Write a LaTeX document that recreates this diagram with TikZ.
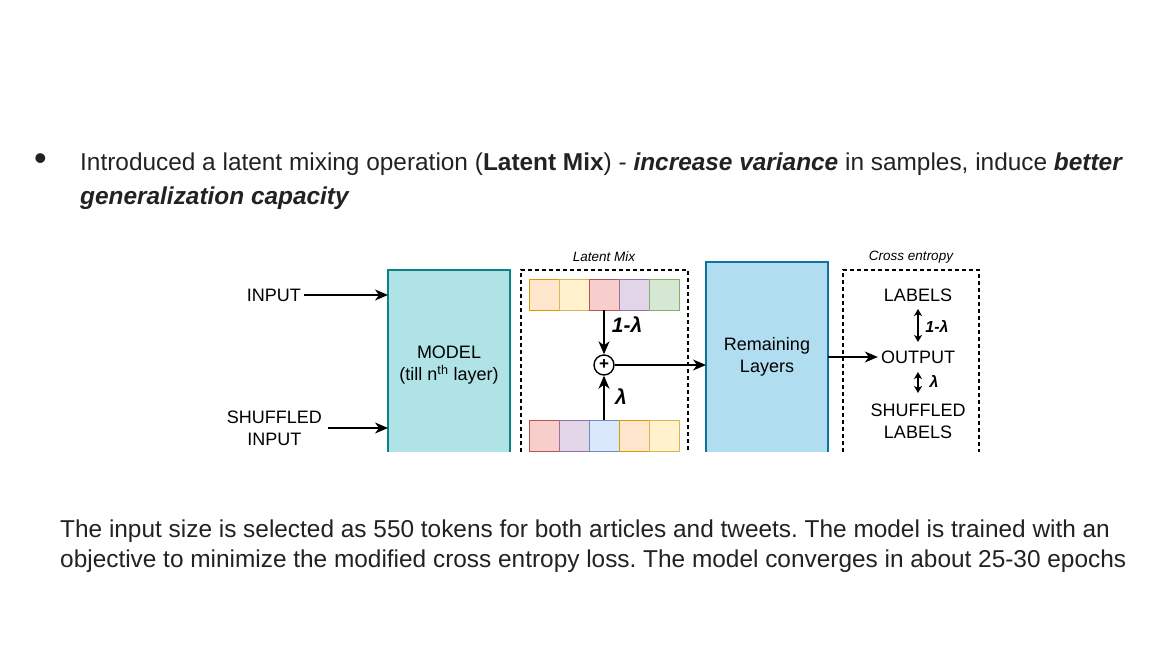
\documentclass[tikz,border=0pt]{standalone}
\usepackage{fontspec}
\setmainfont{Liberation Sans}
\usetikzlibrary{arrows.meta}
\definecolor{txt}{HTML}{222222}
\definecolor{modelfill}{HTML}{B0E3E6}
\definecolor{modeldraw}{HTML}{0E8088}
\definecolor{remfill}{HTML}{B1DDF0}
\definecolor{remdraw}{HTML}{10739E}
\definecolor{orF}{HTML}{FFE6CC}\definecolor{orD}{HTML}{D79B00}
\definecolor{yeF}{HTML}{FFF2CC}\definecolor{yeD}{HTML}{D6B656}
\definecolor{reF}{HTML}{F8CECC}\definecolor{reD}{HTML}{B85450}
\definecolor{puF}{HTML}{E1D5E7}\definecolor{puD}{HTML}{9673A6}
\definecolor{grF}{HTML}{D5E8D4}\definecolor{grD}{HTML}{82B366}
\definecolor{blF}{HTML}{DAE8FC}\definecolor{blD}{HTML}{6C8EBF}
\frenchspacing
\begin{document}
\begin{tikzpicture}[x=1pt,y=-1pt,
  arr/.style={line width=1.3pt,-{Stealth[length=13pt,width=11pt,inset=4pt]}},
  darr/.style={line width=1.3pt,{Stealth[length=7pt,width=8pt,inset=2pt]}-{Stealth[length=7pt,width=8pt,inset=2pt]}},
  body/.style={font=\fontsize{24.4}{34}\selectfont,text=txt,inner sep=0pt},
  dtxt/.style={font=\fontsize{18}{22}\selectfont,text=black,align=center,inner sep=3pt},
  captxt/.style={font=\fontsize{13.5}{16}\selectfont\itshape,text=black,inner sep=0pt},
  lam/.style={font=\fontsize{21}{24}\selectfont\bfseries\itshape,inner sep=0pt},
  lams/.style={font=\fontsize{16}{18}\selectfont\bfseries\itshape,inner sep=0pt},
  cellbox/.style={minimum width=30pt,minimum height=31pt,inner sep=0pt,outer sep=0pt,line width=1pt},
  dashbox/.style={line width=1.1pt,dash pattern=on 4pt off 3pt}
]
\useasboundingbox (0,0) rectangle (1169,658);
\fill[white] (0,0) rectangle (1169,658);

% top text
\node[font=\fontsize{36}{36}\selectfont,text=txt,inner sep=0pt] (bullet) at (40.5,162) {\textbullet};
\node[body,anchor=base west] (l1) at (80,170) {Introduced a latent mixing operation (\textbf{Latent Mix}) - \textbf{\textit{increase variance}} in samples, induce \textbf{\textit{better}}};
\node[body,anchor=base west] (l2) at (80,204) {\textbf{\textit{generalization capacity}}};

% bottom text
\node[body,anchor=base west] (b1) at (60,537) {The input size is selected as 550 tokens for both articles and tweets. The model is trained with an};
\node[body,anchor=base west] (b2) at (60,567) {objective to minimize the modified cross entropy loss. The model converges in about 25-30 epochs};

% model box
\node[fill=modelfill,minimum width=122pt,minimum height=182pt,inner sep=0pt,outer sep=0pt] (model) at (449,361) {};
\draw[modeldraw,line width=1.3pt] (model.south west) -- (model.north west) -- (model.north east) -- (model.south east);
\node[dtxt] (modeltxt) at (449,365) {MODEL\\(till n\textsuperscript{th} layer)};

% inputs
\node[dtxt,anchor=east] (input) at (304,295) {INPUT};
\node[dtxt,anchor=east,inner sep=1pt] (shuf) at (323,428) {SHUFFLED\\INPUT};
\draw[arr] (input.east) -- (input.east -| model.west);
\draw[arr] ([xshift=5pt]shuf.east) -- (shuf.east -| model.west);

% latent mix box
\coordinate (lmA) at (521,452);
\coordinate (lmB) at (521,270);
\coordinate (lmC) at (688,270);
\coordinate (lmD) at (688,452);
\draw[dashbox] (lmA) -- (lmB) -- (lmC) -- (lmD);
\node[captxt] (lmcap) at (604,257) {Latent Mix};

% cells top
\node[cellbox,draw=orD,fill=orF] (t1) at (544,294.5) {};
\node[cellbox,draw=yeD,fill=yeF] (t2) at (574,294.5) {};
\node[cellbox,draw=reD,fill=reF] (t3) at (604,294.5) {};
\node[cellbox,draw=puD,fill=puF] (t4) at (634,294.5) {};
\node[cellbox,draw=grD,fill=grF] (t5) at (664,294.5) {};
% cells bottom
\node[cellbox,draw=reD,fill=reF] (u1) at (544,435.5) {};
\node[cellbox,draw=puD,fill=puF] (u2) at (574,435.5) {};
\node[cellbox,draw=blD,fill=blF] (u3) at (604,435.5) {};
\node[cellbox,draw=orD,fill=orF] (u4) at (634,435.5) {};
\node[cellbox,draw=yeD,fill=yeF] (u5) at (664,435.5) {};

% plus
\node[circle,draw,line width=1.4pt,fill=white,minimum size=20pt,inner sep=0pt,font=\fontsize{17}{17}\selectfont\bfseries] (plus) at (604,365) {+};
\draw[arr] (t3.south) -- (plus.north);
\draw[arr] (u3.north) -- (plus.south);
\node[lam] (lam1) at (627,325) {1-λ};
\node[lam] (lam2) at (621,397) {λ};

% remaining layers
\node[fill=remfill,minimum width=122pt,minimum height=190pt,inner sep=0pt,outer sep=0pt,dtxt] (rem) at (767,357) {Remaining\\Layers};
\draw[remdraw,line width=1.3pt] (rem.south west) -- (rem.north west) -- (rem.north east) -- (rem.south east);
\draw[arr] (plus.east) -- (plus.east -| rem.west);

% cross entropy box
\coordinate (ceA) at (843,452);
\coordinate (ceB) at (843,270);
\coordinate (ceC) at (979,270);
\coordinate (ceD) at (979,452);
\draw[dashbox] (ceA) -- (ceB) -- (ceC) -- (ceD);
\node[captxt] (cecap) at (911,257) {Cross entropy};

\node[dtxt] (labels) at (918,295) {LABELS};
\node[dtxt] (output) at (918,357) {OUTPUT};
\node[dtxt,inner sep=1pt] (slabels) at (918,421) {SHUFFLED\\LABELS};
\draw[arr] (rem.east |- output) -- (output.west);
\draw[darr] (918,309) -- (918,342);
\draw[darr] (918,372) -- (918,393);
\node[lams] (lam3) at (937,326) {1-λ};
\node[lams] (lam4) at (934,381) {λ};
\end{tikzpicture}
\end{document}
